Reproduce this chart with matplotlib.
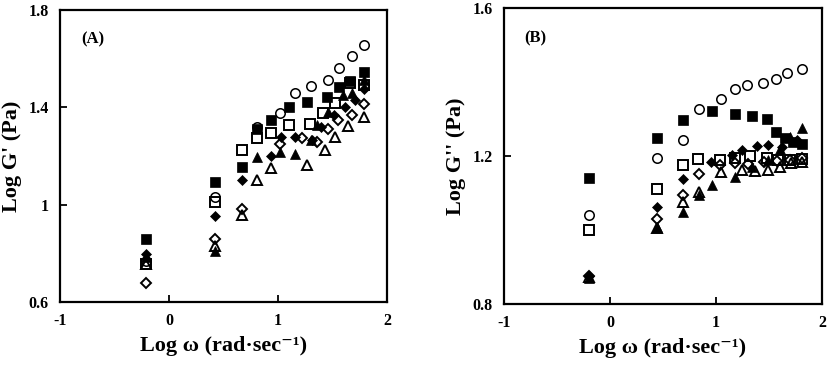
import matplotlib
matplotlib.use("Agg")
import matplotlib.pyplot as plt

# ---------------- Panel A: Log G' ----------------
a_fsq_x = [-0.215, 0.42, 0.666, 0.81, 0.935, 1.10, 1.27, 1.45, 1.56, 1.66, 1.785]
a_fsq_y = [0.858, 1.094, 1.155, 1.31, 1.35, 1.40, 1.42, 1.444, 1.483, 1.509, 1.547]

a_ocir_x = [-0.215, 0.42, 0.81, 1.02, 1.157, 1.30, 1.457, 1.56, 1.68, 1.79]
a_ocir_y = [0.77, 1.03, 1.32, 1.375, 1.458, 1.488, 1.513, 1.561, 1.61, 1.657]

a_osq_x = [-0.215, 0.42, 0.666, 0.81, 0.935, 1.10, 1.294, 1.417, 1.524, 1.66, 1.785]
a_osq_y = [0.757, 1.011, 1.224, 1.275, 1.293, 1.327, 1.33, 1.375, 1.417, 1.50, 1.49]

a_fdia_x = [-0.215, 0.42, 0.666, 0.935, 1.03, 1.157, 1.31, 1.39, 1.51, 1.615, 1.71, 1.785]
a_fdia_y = [0.798, 0.952, 1.10, 1.20, 1.28, 1.28, 1.265, 1.32, 1.37, 1.403, 1.43, 1.475]

a_odia_x = [-0.215, 0.42, 0.666, 1.02, 1.217, 1.355, 1.46, 1.555, 1.68, 1.785]
a_odia_y = [0.677, 0.86, 0.984, 1.249, 1.275, 1.259, 1.31, 1.348, 1.369, 1.414]

a_ftri_x = [-0.215, 0.42, 0.81, 1.02, 1.157, 1.30, 1.355, 1.46, 1.60, 1.68, 1.785]
a_ftri_y = [0.784, 0.81, 1.197, 1.217, 1.21, 1.265, 1.327, 1.38, 1.45, 1.46, 1.513]

a_otri_x = [-0.215, 0.42, 0.666, 0.81, 0.935, 1.264, 1.43, 1.525, 1.645, 1.785]
a_otri_y = [0.757, 0.832, 0.956, 1.10, 1.149, 1.162, 1.224, 1.28, 1.323, 1.359]

# ---------------- Panel B: Log G'' ----------------
b_fsq_x = [-0.198, 0.44, 0.686, 0.96, 1.18, 1.336, 1.478, 1.567, 1.65, 1.73, 1.808]
b_fsq_y = [1.14, 1.25, 1.297, 1.322, 1.313, 1.308, 1.299, 1.265, 1.249, 1.238, 1.232]

b_ocir_x = [-0.198, 0.44, 0.686, 0.843, 1.044, 1.18, 1.29, 1.447, 1.563, 1.673, 1.814]
b_ocir_y = [1.04, 1.195, 1.243, 1.326, 1.353, 1.38, 1.392, 1.397, 1.407, 1.424, 1.434]

b_osq_x = [-0.198, 0.44, 0.686, 0.833, 1.038, 1.18, 1.32, 1.478, 1.588, 1.698, 1.808]
b_osq_y = [1.00, 1.111, 1.177, 1.191, 1.189, 1.194, 1.20, 1.194, 1.189, 1.189, 1.191]

b_fdia_x = [-0.198, 0.44, 0.686, 0.95, 1.148, 1.245, 1.387, 1.49, 1.62, 1.76]
b_fdia_y = [0.875, 1.063, 1.137, 1.183, 1.203, 1.216, 1.226, 1.23, 1.225, 1.243]

b_odia_x = [-0.198, 0.44, 0.686, 0.843, 1.038, 1.18, 1.30, 1.45, 1.58, 1.70, 1.808]
b_odia_y = [0.877, 1.031, 1.094, 1.151, 1.176, 1.18, 1.178, 1.185, 1.187, 1.19, 1.195]

b_ftri_x = [-0.198, 0.44, 0.686, 0.843, 0.96, 1.18, 1.336, 1.49, 1.60, 1.698, 1.808]
b_ftri_y = [0.869, 1.009, 1.049, 1.094, 1.122, 1.144, 1.171, 1.19, 1.22, 1.252, 1.275]

b_otri_x = [-0.198, 0.44, 0.686, 0.843, 1.044, 1.242, 1.37, 1.494, 1.60, 1.71, 1.808]
b_otri_y = [0.872, 1.006, 1.076, 1.104, 1.158, 1.162, 1.16, 1.162, 1.171, 1.18, 1.185]

x_ticks = [-1, 0, 1, 2]
x_ticklabels = ["-1", "0", "1", "2"]
a_yticks = [0.6, 1.0, 1.4, 1.8]
a_yticklabels = ["0.6", "1", "1.4", "1.8"]
b_yticks = [0.8, 1.2, 1.6]
b_yticklabels = ["0.8", "1.2", "1.6"]

plt.rcParams['font.family'] = ['Liberation Serif', 'DejaVu Serif']
plt.rcParams['font.weight'] = 'bold'

fig = plt.figure(figsize=(8.27, 3.65), dpi=100)
W, H = 827, 365
axA = fig.add_axes([60 / W, 1 - 302 / H, (387 - 60) / W, (302 - 10) / H])
axB = fig.add_axes([504 / W, 1 - 304 / H, (822 - 504) / W, (304 - 8) / H])

ms = 6.8
mew = 1.4

def draw(ax, data):
    (fsx, fsy), (ocx, ocy), (osx, osy), (fdx, fdy), (odx, ody), (ftx, fty), (otx, oty) = data
    ax.plot(ocx, ocy, 'o', ls='none', ms=ms, mfc='none', mec='black', mew=mew * 0.8)
    ax.plot(fsx, fsy, 's', ls='none', ms=ms, mfc='black', mec='black', mew=0.5)
    ax.plot(osx, osy, 's', ls='none', ms=ms, mfc='none', mec='black', mew=mew)
    ax.plot(fdx, fdy, 'D', ls='none', ms=ms * 0.8, mfc='black', mec='black', mew=0.5)
    ax.plot(odx, ody, 'D', ls='none', ms=ms * 0.75, mfc='none', mec='black', mew=mew)
    ax.plot(ftx, fty, '^', ls='none', ms=ms, mfc='black', mec='black', mew=0.5)
    ax.plot(otx, oty, '^', ls='none', ms=ms * 1.05, mfc='none', mec='black', mew=mew)

draw(axA, [(a_fsq_x, a_fsq_y), (a_ocir_x, a_ocir_y), (a_osq_x, a_osq_y),
           (a_fdia_x, a_fdia_y), (a_odia_x, a_odia_y), (a_ftri_x, a_ftri_y),
           (a_otri_x, a_otri_y)])
draw(axB, [(b_fsq_x, b_fsq_y), (b_ocir_x, b_ocir_y), (b_osq_x, b_osq_y),
           (b_fdia_x, b_fdia_y), (b_odia_x, b_odia_y), (b_ftri_x, b_ftri_y),
           (b_otri_x, b_otri_y)])

for ax, yt, ytl, ylim, ylab, tag in [
        (axA, a_yticks, a_yticklabels, (0.6, 1.8), "Log G' (Pa)", "(A)"),
        (axB, b_yticks, b_yticklabels, (0.8, 1.6), "Log G'' (Pa)", "(B)")]:
    ax.set_xlim(-1, 2)
    ax.set_ylim(*ylim)
    ax.set_xticks(x_ticks)
    ax.set_xticklabels(x_ticklabels)
    ax.set_yticks(yt)
    ax.set_yticklabels(ytl)
    ax.tick_params(direction='in', length=5, width=1.3, labelsize=11.5, pad=8)
    for lab in ax.get_xticklabels() + ax.get_yticklabels():
        lab.set_fontweight('bold')
    for s in ax.spines.values():
        s.set_linewidth(1.6)
    ax.set_xlabel("Log \u03c9 (rad\u00b7sec\u207b\u00b9)", fontsize=16, fontweight='bold', labelpad=5)
    ax.set_ylabel(ylab, fontsize=16, fontweight='bold', labelpad=5)
    ax.text(0.065, 0.885, tag, transform=ax.transAxes, fontsize=12, fontweight='bold')

fig.savefig("out.png", dpi=100)
